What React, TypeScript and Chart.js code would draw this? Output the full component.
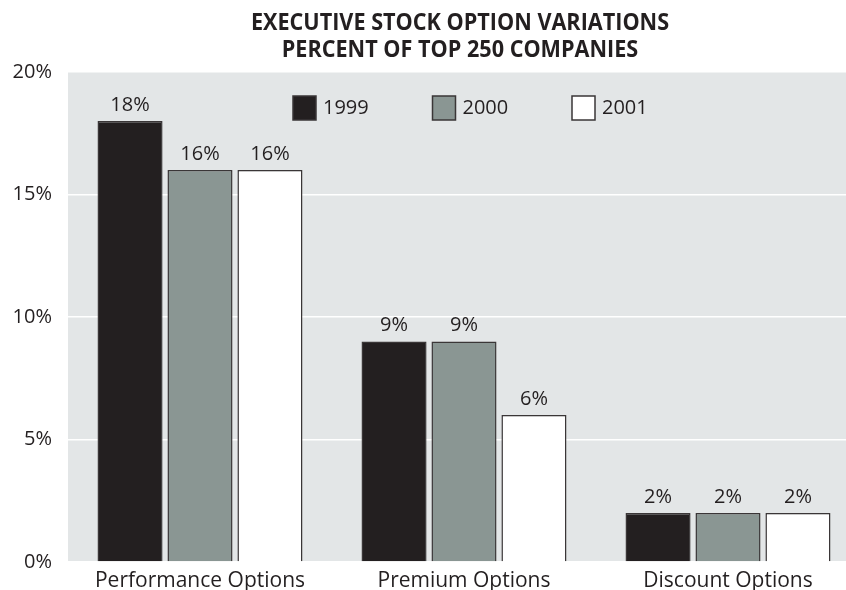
import React, { useEffect, useRef } from "react";
import { Chart, registerables } from "chart.js";

Chart.register(...registerables);

const categories = ["Performance Options", "Premium Options", "Discount Options"];
const seriesLabels = ["1999", "2000", "2001"];
const values1999 = [18, 9, 2];
const values2000 = [16, 9, 2];
const values2001 = [16, 6, 2];
const seriesColors = ["#231f20", "#8a9693", "#ffffff"];
const yTicks = [0, 5, 10, 15, 20];
const titleLines = ["EXECUTIVE STOCK OPTION VARIATIONS", "PERCENT OF TOP 250 COMPANIES"];

const TEXT = "#231f20";
const FONT = "'Open Sans', sans-serif";

const bgPlugin = {
  id: "plotBg",
  beforeDraw(chart: any) {
    const { ctx, chartArea } = chart;
    ctx.save();
    ctx.fillStyle = "#e3e6e7";
    ctx.fillRect(chartArea.left, chartArea.top, chartArea.right - chartArea.left, chartArea.bottom - chartArea.top);
    ctx.restore();
  },
};

const overlayPlugin = {
  id: "overlay",
  afterDraw(chart: any) {
    const { ctx, chartArea } = chart;
    ctx.save();
    // title (condensed bold)
    ctx.fillStyle = TEXT;
    ctx.font = `bold 23px ${FONT}`;
    ctx.textAlign = "center";
    ctx.textBaseline = "middle";
    const cx = 460;
    titleLines.forEach((t, i) => {
      ctx.save();
      ctx.translate(cx, 23 + i * 27);
      ctx.scale(0.94, 1);
      ctx.fillText(t, 0, 0);
      ctx.restore();
    });
    // value labels
    ctx.font = `20px ${FONT}`;
    ctx.textBaseline = "middle";
    chart.data.datasets.forEach((ds: any, di: number) => {
      const meta = chart.getDatasetMeta(di);
      meta.data.forEach((bar: any, i: number) => {
        ctx.fillText(`${ds.data[i]}%`, bar.x, bar.y - 16);
      });
    });
    // legend
    const startX = 433 - 140;
    const step = 139.5;
    const boxY = chartArea.top + 24;
    ctx.textAlign = "left";
    ctx.font = `20px ${FONT}`;
    chart.data.datasets.forEach((ds: any, di: number) => {
      const x = startX + di * step;
      ctx.fillStyle = ds.backgroundColor;
      ctx.fillRect(x, boxY, 23, 24);
      ctx.strokeStyle = "#3a3637";
      ctx.lineWidth = 1.5;
      ctx.strokeRect(x, boxY, 23, 24);
      ctx.fillStyle = TEXT;
      ctx.fillText(ds.label, x + 30, boxY + 12);
    });
    ctx.restore();
  },
};

export default function App() {
  const ref = useRef<HTMLCanvasElement | null>(null);
  useEffect(() => {
    document.body.style.margin = "0";
    document.body.style.overflow = "hidden";
    const data = [values1999, values2000, values2001];
    const chart = new Chart(ref.current as HTMLCanvasElement, {
      type: "bar",
      data: {
        labels: categories,
        datasets: seriesLabels.map((label, i) => ({
          label,
          data: data[i],
          backgroundColor: seriesColors[i],
          borderColor: "#3a3637",
          borderWidth: 1.5,
          categoryPercentage: 0.795,
          barPercentage: 0.93,
        })),
      },
      options: {
        responsive: false,
        animation: false,
        layout: { padding: { top: 72, right: 2, left: 0, bottom: -10 } },
        plugins: { legend: { display: false }, title: { display: false }, tooltip: { enabled: false } },
        scales: {
          x: {
            grid: { display: false, drawTicks: false },
            border: { display: false },
            ticks: { color: TEXT, font: { family: FONT, size: 21 }, padding: 6 },
            afterFit: (s: any) => { s.height = 30; },
          },
          y: {
            min: 0,
            max: 20,
            afterBuildTicks: (s: any) => { s.ticks = yTicks.map((v) => ({ value: v })); },
            grid: { color: "#ffffff", lineWidth: 1.5, drawTicks: false },
            border: { display: false },
            ticks: {
              color: TEXT,
              font: { family: FONT, size: 20 },
              padding: 16,
              callback: (v: any) => `${v}%`,
            },
            afterFit: (s: any) => { s.width = 68; },
          },
        },
      },
      plugins: [bgPlugin, overlayPlugin],
    });
    return () => chart.destroy();
  }, []);
  return (
    <div style={{ width: 846, height: 590, overflow: "hidden" }}>
      <canvas ref={ref} width={862} height={590} style={{ display: "block" }} />
    </div>
  );
}
